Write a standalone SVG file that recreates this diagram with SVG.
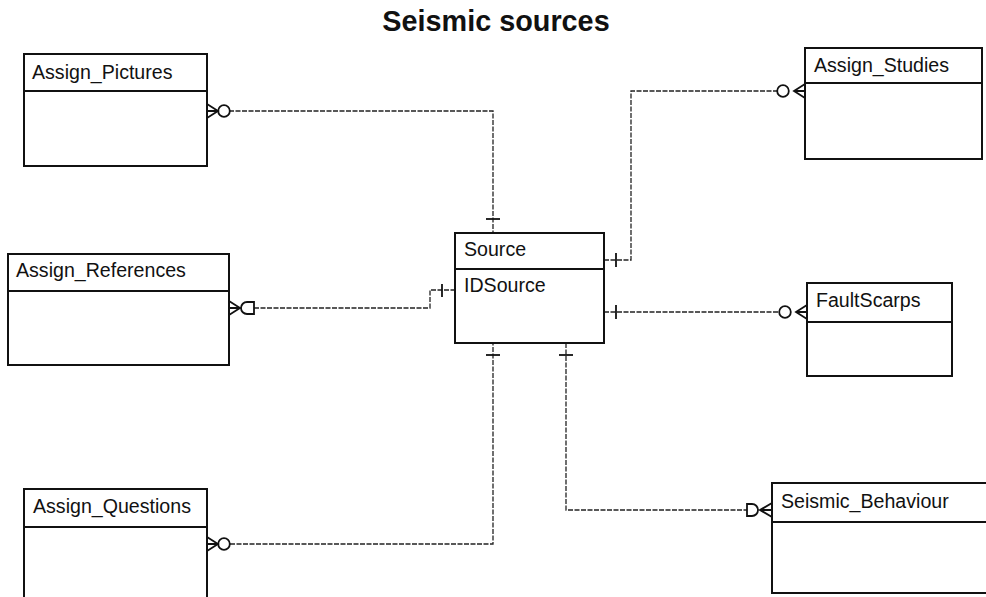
<svg xmlns="http://www.w3.org/2000/svg" width="986" height="597" viewBox="0 0 986 597">
<style>
.box{fill:#fff;stroke:#111;stroke-width:2}
.div{stroke:#111;stroke-width:2}
.lbl{font-family:"Liberation Sans",Arial,sans-serif;font-size:19.6px;fill:#111}
.title{font-family:"Liberation Sans",Arial,sans-serif;font-size:28.8px;font-weight:bold;fill:#111}
.conn{fill:none;stroke:#222;stroke-width:1.3;stroke-dasharray:5 1.5}
.mk{fill:none;stroke:#111;stroke-width:1.8}
</style>
<rect width="986" height="597" fill="#fff"/>
<text class="title" x="496" y="31" text-anchor="middle">Seismic sources</text>

<g id="connectors">
  <!-- Assign_Pictures -->
  <path class="conn" d="M229 111 H493 V233"/>
  <line class="mk" x1="486" y1="219" x2="500" y2="219"/>
  <path class="mk" d="M207 104 L218 111 L207 118 M207 111 H218"/>
  <circle class="mk" cx="224" cy="111" r="5.8"/>
  <!-- Assign_References -->
  <path class="conn" d="M254 308 H430 V290 H455"/>
  <line class="mk" x1="442" y1="284" x2="442" y2="297"/>
  <path class="mk" d="M229 301 L240 308 L229 315 M229 308 H240"/>
  <path class="mk" d="M254 302 H247 A6 6 0 0 0 247 314 H254 Z"/>
  <!-- Assign_Questions -->
  <path class="conn" d="M230 544 H493 V343"/>
  <line class="mk" x1="486" y1="355" x2="500" y2="355"/>
  <path class="mk" d="M207 537 L218 544 L207 551 M207 544 H218"/>
  <circle class="mk" cx="224" cy="544" r="5.8"/>
  <!-- Assign_Studies -->
  <path class="conn" d="M604 260 H631 V91 H777"/>
  <line class="mk" x1="616" y1="253" x2="616" y2="267"/>
  <path class="mk" d="M805 84 L794 91 L805 98 M805 91 H794"/>
  <circle class="mk" cx="783" cy="91" r="5.8"/>
  <!-- FaultScarps -->
  <path class="conn" d="M604 312 H779"/>
  <line class="mk" x1="616" y1="305" x2="616" y2="319"/>
  <path class="mk" d="M807 305 L796 312 L807 319 M807 312 H796"/>
  <circle class="mk" cx="785" cy="312" r="5.8"/>
  <!-- Seismic_Behaviour -->
  <path class="conn" d="M566 343 V510 H747"/>
  <line class="mk" x1="559" y1="355" x2="573" y2="355"/>
  <path class="mk" d="M747 504 H752 A6 6 0 0 1 752 516 H747 Z"/>
  <path class="mk" d="M772 503 L760 510 L772 517 M772 510 H760"/>
</g>

<g id="Assign_Pictures">
  <rect class="box" x="24" y="54" width="183" height="112"/>
  <line class="div" x1="24" y1="91" x2="207" y2="91"/>
  <text class="lbl" x="32" y="79">Assign_Pictures</text>
</g>
<g id="Assign_References">
  <rect class="box" x="8" y="254" width="221" height="111"/>
  <line class="div" x1="8" y1="291" x2="229" y2="291"/>
  <text class="lbl" x="16" y="277">Assign_References</text>
</g>
<g id="Assign_Questions">
  <rect class="box" x="24" y="489" width="183" height="120"/>
  <line class="div" x1="24" y1="527" x2="207" y2="527"/>
  <text class="lbl" x="33" y="513">Assign_Questions</text>
</g>
<g id="Source">
  <rect class="box" x="455" y="233" width="149" height="110"/>
  <line class="div" x1="455" y1="269" x2="604" y2="269"/>
  <text class="lbl" x="464" y="256">Source</text>
  <text class="lbl" x="464" y="292">IDSource</text>
</g>
<g id="Assign_Studies">
  <rect class="box" x="805" y="48" width="177" height="111"/>
  <line class="div" x1="805" y1="83" x2="982" y2="83"/>
  <text class="lbl" x="814" y="72">Assign_Studies</text>
</g>
<g id="FaultScarps">
  <rect class="box" x="807" y="283" width="145" height="93"/>
  <line class="div" x1="807" y1="322" x2="952" y2="322"/>
  <text class="lbl" x="816" y="307">FaultScarps</text>
</g>
<g id="Seismic_Behaviour">
  <rect class="box" x="772" y="483" width="220" height="110"/>
  <line class="div" x1="772" y1="522" x2="992" y2="522"/>
  <text class="lbl" x="781" y="508">Seismic_Behaviour</text>
</g>
</svg>
